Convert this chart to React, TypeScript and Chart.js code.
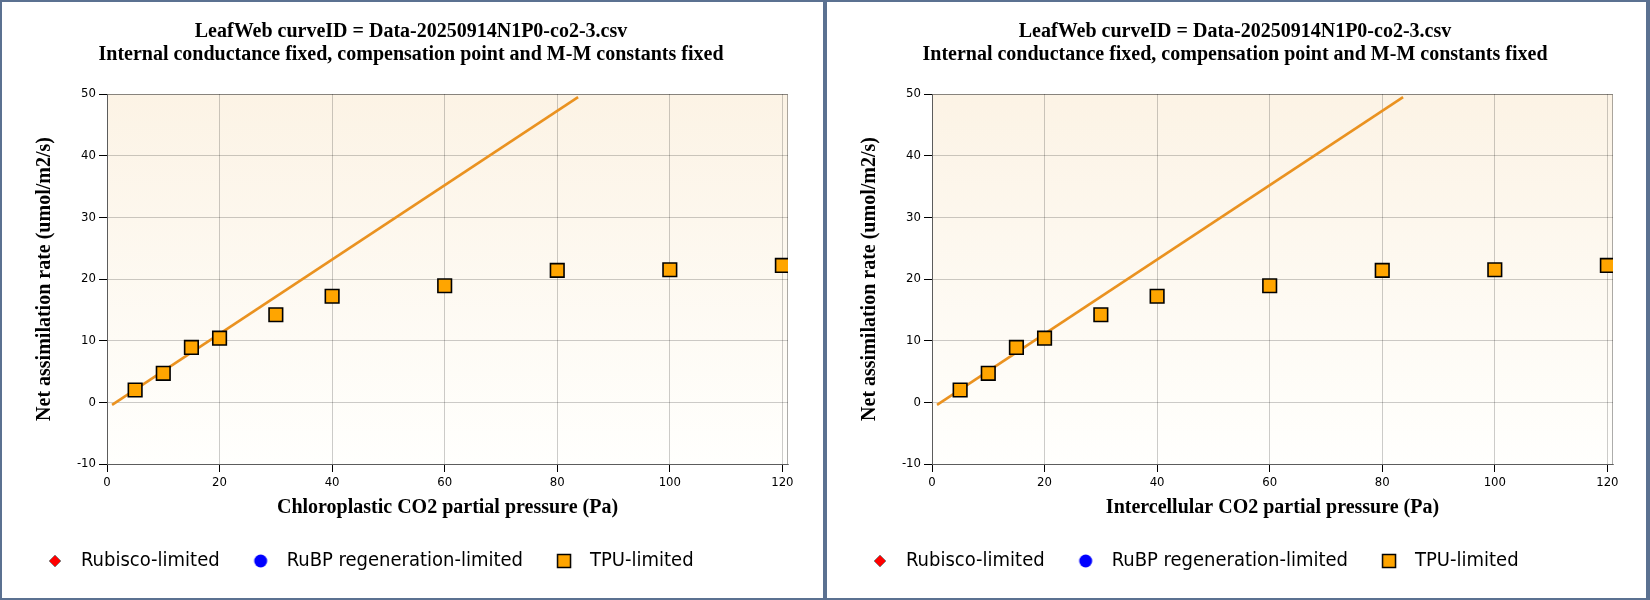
import React, { useEffect, useRef } from "react";
import { Chart, registerables } from "chart.js";

Chart.register(...registerables);

// ---------- data ----------
const titleLines = [
  "LeafWeb curveID = Data-20250914N1P0-co2-3.csv",
  "Internal conductance fixed, compensation point and M-M constants fixed",
];
const yAxisTitle = "Net assimilation rate (umol/m2/s)";
const xAxisTitles = [
  "Chloroplastic CO2 partial pressure (Pa)",
  "Intercellular CO2 partial pressure (Pa)",
];
const legendLabels = ["Rubisco-limited", "RuBP regeneration-limited", "TPU-limited"];

const rubiscoX: number[] = [];
const rubiscoY: number[] = [];
const rubpX: number[] = [];
const rubpY: number[] = [];
const tpuX = [5, 10, 15, 20, 30, 40, 60, 80, 100, 120];
const tpuY = [2.0, 4.7, 8.9, 10.4, 14.2, 17.2, 18.9, 21.4, 21.5, 22.2];
const lineX = [0.9, 83.7];
const lineY = [-0.4, 49.5];

const xTicks = [0, 20, 40, 60, 80, 100, 120];
const yTicks = [-10, 0, 10, 20, 30, 40, 50];
const xMin = 0;
const xMax = 121;
const yMin = -10;
const yMax = 50;

const pts = (xs: number[], ys: number[]) => xs.map((x, i) => ({ x, y: ys[i] }));

// ---------- legend markers ----------
function makeMarker(kind: number): HTMLCanvasElement {
  const c = document.createElement("canvas");
  c.width = 18;
  c.height = 18;
  const g = c.getContext("2d")!;
  if (kind === 0) {
    g.beginPath();
    g.moveTo(9, 3);
    g.lineTo(15, 9);
    g.lineTo(9, 15);
    g.lineTo(3, 9);
    g.closePath();
    g.fillStyle = "#ff0000";
    g.fill();
    g.strokeStyle = "rgba(130,130,130,0.9)";
    g.lineWidth = 1;
    g.stroke();
  } else if (kind === 1) {
    g.beginPath();
    g.arc(9, 9, 6.5, 0, Math.PI * 2);
    g.fillStyle = "#0000ff";
    g.fill();
  } else {
    g.beginPath();
    g.rect(2.5, 2.5, 13, 13);
    g.fillStyle = "#FFA500";
    g.fill();
    g.strokeStyle = "#000";
    g.lineWidth = 1.5;
    g.stroke();
  }
  return c;
}

const plotBgPlugin = {
  id: "plotBg",
  beforeDraw(chart: any) {
    const { ctx, chartArea: a } = chart;
    ctx.save();
    const grad = ctx.createLinearGradient(0, a.top, 0, a.bottom);
    grad.addColorStop(0, "rgb(252,243,229)");
    grad.addColorStop(1, "rgb(255,255,253)");
    ctx.fillStyle = grad;
    ctx.fillRect(a.left, a.top, a.right - a.left, a.bottom - a.top);
    ctx.restore();
  },
  beforeDatasetsDraw(chart: any) {
    const { ctx, chartArea: a } = chart;
    ctx.save();
    ctx.strokeStyle = "rgba(0,0,0,0.32)";
    ctx.lineWidth = 1;
    ctx.strokeRect(a.left + 0.5, a.top + 0.5, a.right - a.left - 1, a.bottom - a.top);
    ctx.restore();
  },
};

const serif = "'Liberation Serif', 'Times New Roman', serif";
const sans = "'DejaVu Sans Condensed', 'DejaVu Sans', Verdana, sans-serif";

function Panel({ xTitle, rightBorder }: { xTitle: string; rightBorder: number }) {
  const ref = useRef<HTMLCanvasElement>(null);
  const innerW = 825 - 2 - rightBorder;
  useEffect(() => {
    const markers = [0, 1, 2].map(makeMarker);
    const chart = new Chart(ref.current!, {
      type: "scatter",
      data: {
        datasets: [
          {
            label: legendLabels[0],
            data: pts(rubiscoX, rubiscoY),
            pointStyle: "rectRot",
            pointRadius: 6,
            backgroundColor: "#ff0000",
            borderColor: "#888",
            yAxisID: "y",
            order: 1,
          },
          {
            label: legendLabels[1],
            data: pts(rubpX, rubpY),
            pointStyle: "circle",
            pointRadius: 6,
            backgroundColor: "#0000ff",
            borderColor: "#0000ff",
            yAxisID: "y",
            order: 1,
          },
          {
            label: legendLabels[2],
            data: pts(tpuX, tpuY),
            pointStyle: "rect",
            pointRadius: 9.6,
            pointHoverRadius: 9.6,
            backgroundColor: "#FFA500",
            borderColor: "#000",
            borderWidth: 1.6,
            yAxisID: "y",
            order: 0,
          },
          {
            label: "fit",
            data: pts(lineX, lineY),
            showLine: true,
            pointRadius: 0,
            borderColor: "#EA9220",
            borderWidth: 2.6,
            yAxisID: "y",
            order: 5,
          } as any,
        ],
      },
      options: {
        animation: false,
        responsive: true,
        maintainAspectRatio: false,
        layout: { padding: { left: 12, right: 15, top: 0, bottom: 17 } },
        scales: {
          x: {
            type: "linear",
            min: xMin,
            max: xMax,
            afterBuildTicks: (s: any) => {
              s.ticks = xTicks.map((v) => ({ value: v }));
            },
            afterFit: (s: any) => {
              s.height = 62;
            },
            grid: {
              color: "rgba(0,0,0,0.2)",
              tickColor: "#000",
              tickLength: 8,
              lineWidth: 1,
            },
            border: { display: true, color: "#888" },
            ticks: { color: "#000", font: { family: sans, size: 13 }, padding: 3, maxRotation: 0 },
            title: {
              display: true,
              text: xTitle,
              color: "#000",
              font: { family: serif, size: 20, weight: "bold", lineHeight: "24px" },
              padding: { top: 0, bottom: 6 },
            },
          },
          y: {
            type: "linear",
            position: "left",
            min: yMin,
            max: yMax,
            afterBuildTicks: (s: any) => {
              s.ticks = yTicks.map((v) => ({ value: v }));
            },
            afterFit: (s: any) => {
              s.width = 93;
            },
            grid: {
              color: "rgba(0,0,0,0.2)",
              tickColor: "#000",
              tickLength: 8,
              lineWidth: 1,
            },
            border: { display: true, color: "#888" },
            ticks: { color: "#000", font: { family: sans, size: 13 }, padding: 3 },
            title: {
              display: true,
              text: yAxisTitle,
              color: "#000",
              font: { family: serif, size: 20, weight: "bold", lineHeight: "24px" },
              padding: { top: 19, bottom: 0 },
            },
          },
          yR: {
            type: "linear",
            position: "right",
            display: true,
            grid: { display: false, drawTicks: false },
            border: { display: false },
            ticks: { display: false },
            afterFit: (s: any) => {
              s.width = innerW - 15 - 786;
            },
          },
        },
        plugins: {
          title: {
            display: true,
            text: titleLines,
            color: "#000",
            font: { family: serif, size: 20, weight: "bold", lineHeight: "23px" },
            padding: { top: 18.5, bottom: 27.5 },
          },
          legend: {
            display: true,
            position: "bottom",
            align: "start",
            labels: {
              usePointStyle: true,
              pointStyleWidth: 32,
              padding: 25,
              color: "#000",
              font: { family: sans, size: 20 },
              generateLabels: () =>
                legendLabels.map((t, i) => ({
                  text: t,
                  pointStyle: markers[i],
                  fillStyle: "transparent",
                  strokeStyle: "transparent",
                  lineWidth: 0,
                  hidden: false,
                  datasetIndex: i,
                  fontColor: "#000",
                })) as any,
            },
          },
          tooltip: { enabled: false },
        },
      } as any,
      plugins: [plotBgPlugin],
    });
    return () => chart.destroy();
  }, []);
  return (
    <div
      style={{
        width: 825,
        height: 600,
        boxSizing: "border-box",
        borderStyle: "solid",
        borderColor: "#5b7191",
        borderWidth: `2px ${rightBorder}px 2px 2px`,
        background: "#fff",
      }}
    >
      <div style={{ position: "relative", width: innerW, height: 596 }}>
        <canvas ref={ref} />
      </div>
    </div>
  );
}

export default function App() {
  return (
    <>
      <style>{`body{margin:0;}`}</style>
      <div style={{ display: "flex", width: 1650, height: 600 }}>
        <Panel xTitle={xAxisTitles[0]} rightBorder={2} />
        <Panel xTitle={xAxisTitles[1]} rightBorder={4} />
      </div>
    </>
  );
}
